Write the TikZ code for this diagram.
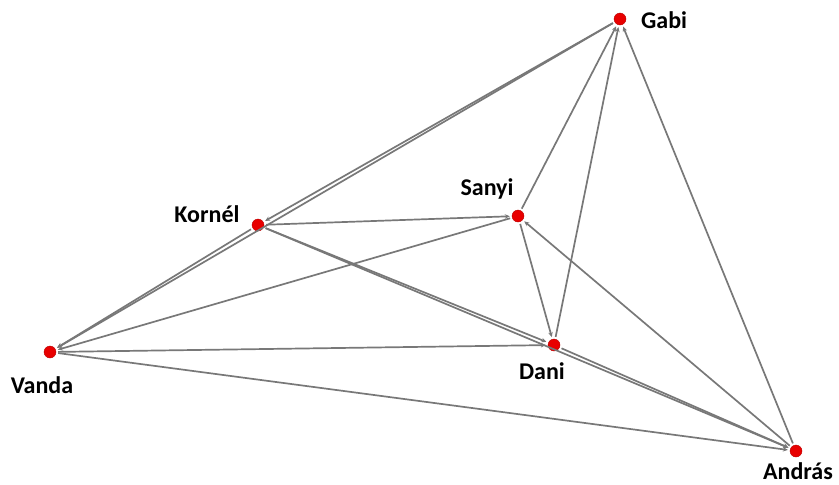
\documentclass[tikz,border=0pt]{standalone}
\usepackage{fontspec}
\setmainfont{Carlito}
\usetikzlibrary{arrows.meta}
\definecolor{edgegray}{RGB}{120,120,120}
\definecolor{nodered}{RGB}{232,0,0}
\tikzset{
  vert/.style={circle,fill=nodered,draw=nodered!80!black,line width=0.4pt,inner sep=0pt,minimum size=12pt},
  lbl/.style={font=\bfseries\fontsize{24}{28}\selectfont,inner sep=0pt,text=black},
  edge/.style={draw=edgegray,line width=1.7pt,-{Stealth[length=5pt,width=4.5pt]},shorten >=2pt,shorten <=2pt}
}
\begin{document}
\begin{tikzpicture}[x=1pt,y=-1pt]
\useasboundingbox (0,0) rectangle (839,485);
\node[vert] (G) at (620,19) {};
\node[vert] (S) at (518,216) {};
\node[vert] (K) at (258,225) {};
\node[vert] (V) at (50,352) {};
\node[vert] (D) at (554,345) {};
\node[vert] (A) at (796,451) {};
\node[lbl,anchor=west] (tG) at (641,20) {Gabi};
\node[lbl] (tS) at (487,189) {Sanyi};
\node[lbl] (tK) at (207,214) {Kornél};
\node[lbl] (tV) at (42,385) {Vanda};
\node[lbl] (tD) at (542,371) {Dani};
\node[lbl] (tA) at (798,471) {András};
\draw[edge] (G) -- (K);
\draw[edge] (G) -- (V);
\draw[edge] (K) -- (V);
\draw[edge] (K) -- (S);
\draw[edge] (K) -- (D);
\draw[edge] (D) -- (A);
\draw[edge] (K) -- (A);
\draw[edge] (S) -- (G);
\draw[edge] (D) -- (G);
\draw[edge] (A) -- (G);
\draw[edge] (S) -- (D);
\draw[edge] (A) -- (S);
\draw[edge] (S) -- (V);
\draw[edge] (V) -- (D);
\draw[edge] (V) -- (A);
\end{tikzpicture}
\end{document}
